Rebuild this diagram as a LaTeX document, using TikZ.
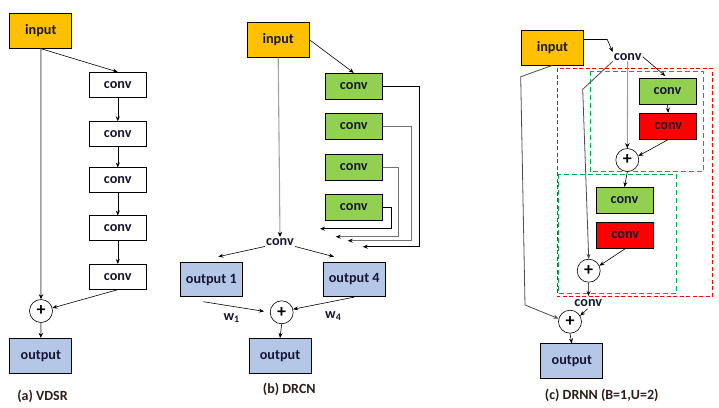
\documentclass[tikz,border=0pt]{standalone}
\usepackage{fontspec}
\setmainfont{Carlito}
\usetikzlibrary{arrows.meta}
\definecolor{inyellow}{RGB}{255,192,0}
\definecolor{outblue}{RGB}{180,199,231}
\definecolor{convgreen}{RGB}{146,208,80}
\definecolor{convred}{RGB}{255,0,0}
\definecolor{textc}{RGB}{22,22,50}
\definecolor{capc}{RGB}{45,30,25}
\definecolor{lgray}{RGB}{160,160,160}
\definecolor{dgreen}{RGB}{0,176,80}
\tikzset{
  lbl/.style={font=\fontsize{14.2}{16}\selectfont\bfseries, text=textc, inner sep=1pt},
  blk/.style={lbl, draw=black, line width=0.7pt, minimum width=57pt, minimum height=25pt, inner sep=0pt},
  inbox/.style={blk, fill=inyellow, minimum width=62pt, minimum height=35pt},
  outbox/.style={blk, fill=outblue, minimum width=62pt, minimum height=35pt},
  whitebox/.style={blk, fill=white},
  greenbox/.style={blk, fill=convgreen, minimum height=26pt},
  redbox/.style={blk, fill=convred, minimum height=26pt},
  plusc/.style={circle, draw=black, line width=0.6pt, minimum size=23pt, inner sep=0pt, fill=white,
     font=\fontsize{18}{18}\selectfont\bfseries, text=black},
  captext/.style={font=\fontsize{14}{16}\selectfont\bfseries, text=capc},
  arr/.style={draw=black, line width=0.6pt, -{Stealth[length=5pt,width=4pt]}},
  garr/.style={draw=lgray, line width=1.5pt, -{Stealth[length=5pt,width=4.5pt,color=black]}},
  fb/.style={draw=black, line width=0.8pt, -{Stealth[length=5pt,width=4pt]}},
  gfb/.style={draw=black!55, line width=1.1pt, -{Stealth[length=5pt,width=4pt,color=black]}},
  reddash/.style={draw=red, line width=0.8pt, dash pattern=on 4pt off 2.5pt},
  greendash/.style={draw=dgreen, line width=0.8pt, dash pattern=on 5pt off 3pt},
}
\begin{document}
\begin{tikzpicture}[x=1pt,y=-1pt]
\useasboundingbox (0,0) rectangle (719,407);

% ---------------- (a) VDSR ----------------
\node[inbox] (ainput) at (40.8,30.8) {input};
\node[whitebox] (aconv1) at (117.8,84.8) {conv};
\node[whitebox] (aconv2) at (117.8,134.2) {conv};
\node[whitebox] (aconv3) at (117.8,180.3) {conv};
\node[whitebox] (aconv4) at (117.8,228.3) {conv};
\node[whitebox] (aconv5) at (117.8,276.8) {conv};
\node[plusc] (aplus) at (41,311) {+};
\node[outbox] (aout) at (40.8,355.7) {output};
\node[captext] (acap) at (42.5,396) {(a) VDSR};

\draw[garr] (ainput.south) -- (aplus.north);
\draw[arr] (ainput.south) -- (aconv1.north);
\draw[arr] (aconv1.south) -- (aconv2.north);
\draw[arr] (aconv2.south) -- (aconv3.north);
\draw[arr] (aconv3.south) -- (aconv4.north);
\draw[arr] (aconv4.south) -- (aconv5.north);
\draw[arr] (aconv5.south) -- (aplus.15);
\draw[garr] (aplus.south) -- (aout.north);

% ---------------- (b) DRCN ----------------
\node[inbox] (binput) at (278.2,39.8) {input};
\node[greenbox] (bconv1) at (353.8,86.2) {conv};
\node[greenbox] (bconv2) at (353.8,126.2) {conv};
\node[greenbox] (bconv3) at (353.8,167.2) {conv};
\node[greenbox] (bconv4) at (353.8,207) {conv};
\node[lbl] (bc) at (280,241.7) {conv};
\node[outbox, minimum height=34.5pt] (bout1) at (211.3,279.5) {output 1};
\node[outbox, minimum height=34.5pt] (bout4) at (354.2,279.5) {\raisebox{-4pt}{output 4}};
\node[plusc] (bplus) at (281.7,312.3) {+};
\node[outbox] (bout) at (280,355.8) {output};
\node[lbl] (w1) at (231.7,318) {w$_{\mathbf{1}}$};
\node[lbl] (w4) at (333.3,316) {w$_{\mathbf{4}}$};
\node[captext] (bcap) at (289.3,389) {(b) DRCN};

\coordinate (f1) at (362.7,246.7);
\coordinate (f2) at (347.7,240.7);
\coordinate (f3) at (335.7,236.7);
\coordinate (f4) at (320,228.7);
\coordinate (o1t) at (218.3,256.7);
\coordinate (o4t) at (334,256.7);
\coordinate (o1b) at (203.3,301.7);

\draw[garr, line width=1.1pt] (binput.south) -- (bc.north);
\draw[arr] (binput.east) -- (bconv1.north);
\draw[fb] (bconv1.east) -- ++(37,0) |- (f1);
\draw[gfb] (bconv2.east) -- ++(29,0) |- (f2);
\draw[gfb] (bconv3.east) -- ++(15.5,0) |- (f3);
\draw[fb] (bconv4.east) -- ++(8.5,0) |- (f4);
\draw[arr] (bc.south west) -- (o1t);
\draw[arr] (bc.south east) -- (o4t);
\draw[arr, shorten >=6pt] (o1b) -- (bplus.west);
\draw[arr] (bout4.south) -- (bplus.15);
\draw[arr] (bplus.south) -- (bout.north);

% ---------------- (c) DRNN ----------------
\node[inbox] (cinput) at (552.5,47.5) {input};
\node[lbl] (cc) at (627.7,56.7) {conv};
\draw[reddash] (557.3,68.3) rectangle (712.3,296.7);
\draw[greendash] (590,71) rectangle (703.3,171.7);
\draw[greendash] (558.3,174.3) rectangle (676.7,293.3);
\node[greenbox] (cg1) at (667.5,91.3) {conv};
\node[redbox] (cr1) at (668.3,126.2) {conv};
\node[plusc] (cplus1) at (627.3,160) {+};
\node[greenbox] (cg2) at (624.5,200.3) {conv};
\node[redbox] (cr2) at (625.3,235.3) {conv};
\node[plusc] (cplus2) at (588.7,270.7) {+};
\node[lbl] (cc2) at (588.3,303.3) {conv};
\node[plusc] (cplus3) at (570,321.7) {+};
\node[outbox] (cout) at (571.8,361.3) {output};
\node[captext] (ccap) at (601.7,395) {(c) DRNN (B=1,U=2)};

\coordinate (k1) at (582.7,89.3);
\coordinate (k2) at (520.7,76.7);
\coordinate (k3) at (525,305);
\coordinate (c2end) at (588.5,296);

\draw[arr] ([yshift=8pt]cinput.east) -- ++(23.4,0) -- (cc.north west);
\draw[arr, shorten >=3pt] (cc.east) -- (cg1.north);
\draw[garr, line width=1.1pt] (cc.south) -- (cplus1.north);
\draw[arr, draw=black!70, line width=0.8pt] (cc.south west) -- (k1) -- (cplus2.north);
\draw[arr, draw=black!70, line width=0.8pt] (cinput.south) -- (k2) -- (k3) -- (cplus3.165);
\draw[arr] (cg1.south) -- (cr1.north);
\draw[arr] (cr1.south) -- (cplus1.20);
\draw[arr] (cplus1.south) -- (cg2.north);
\draw[arr] (cr2.south) -- (cplus2.25);
\draw[arr] (cplus2.south) -- (c2end);
\draw[arr, shorten <=1pt] (cc2.south) -- (cplus3.30);
\draw[arr] (cplus3.south) -- (cout.north);
\end{tikzpicture}
\end{document}
